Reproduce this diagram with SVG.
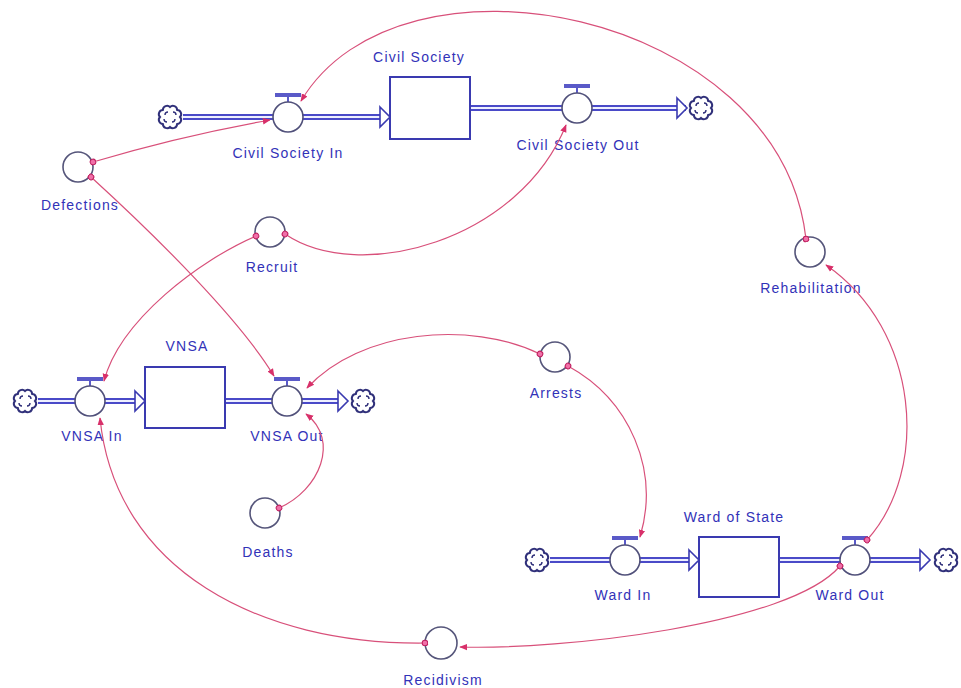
<svg xmlns="http://www.w3.org/2000/svg" width="961" height="688" viewBox="0 0 961 688">
<defs>
<style>
text{font-family:"Liberation Sans",Arial,sans-serif;font-size:14px;fill:#3232b8;letter-spacing:1.2px;text-anchor:middle}
.stock{fill:#fff;stroke:#3a3ab0;stroke-width:2}
.pipe{fill:none;stroke:#4a4ac8;stroke-width:6}
.pipein{fill:none;stroke:#eef0ff;stroke-width:2}
.valve{fill:#fff;stroke:#50507a;stroke-width:1.6}
.bar{fill:#5a5ac8}
.aux{fill:#fff;stroke:#55557a;stroke-width:1.6}
.cloud{fill:#fff;stroke:#30307a;stroke-width:2}
.cloudin{fill:none;stroke:#30307a;stroke-width:1.4}
.tri{fill:#fff;stroke:#3a3ab0;stroke-width:1.6}
.link{fill:none;stroke:#d8507a;stroke-width:1.2;marker-start:url(#dot);marker-end:url(#arr)}
</style>
<marker id="arr" viewBox="0 0 10 10" refX="9" refY="5" markerWidth="8" markerHeight="8" markerUnits="userSpaceOnUse" orient="auto">
<path d="M0,1 L10,5 L0,9 Z" fill="#d8306a"/>
</marker>
<marker id="dot" viewBox="0 0 10 10" refX="5" refY="5" markerWidth="7" markerHeight="7" markerUnits="userSpaceOnUse" orient="auto">
<circle cx="5" cy="5" r="4" fill="#f070a8" stroke="#c02060" stroke-width="1.5"/>
</marker>
<g id="cloudshape">
<path d="M10,0 A4.2,4.2 0 0 1 7.1,7.1 A4.2,4.2 0 0 1 0,10 A4.2,4.2 0 0 1 -7.1,7.1 A4.2,4.2 0 0 1 -10,0 A4.2,4.2 0 0 1 -7.1,-7.1 A4.2,4.2 0 0 1 0,-10 A4.2,4.2 0 0 1 7.1,-7.1 A4.2,4.2 0 0 1 10,0 Z" class="cloud"/>
<path d="M-5,-2 a3,3 0 0 1 3,-3 M3,-5 a3,3 0 0 1 3,3 M5,2 a3,3 0 0 1 -3,3 M-3,5 a3,3 0 0 1 -3,-3" class="cloudin"/>
</g>
<g id="valveshape">
<rect x="-13" y="-24" width="26" height="4" class="bar"/>
<line x1="0" y1="-20" x2="0" y2="-15" stroke="#5a5ac8" stroke-width="2"/>
<circle r="15" class="valve"/>
</g>
</defs>
<rect width="961" height="688" fill="#fff"/>

<!-- flow pipes -->
<g id="pipes">
<path d="M183,117 H381 M470,108 H686" class="pipe"/>
<path d="M183,117 H381 M470,108 H686" class="pipein"/>
<path d="M38,401 H136 M225,401 H338" class="pipe"/>
<path d="M38,401 H136 M225,401 H338" class="pipein"/>
<path d="M550,560 H689 M779,560 H920" class="pipe"/>
<path d="M550,560 H689 M779,560 H920" class="pipein"/>
<path d="M380,107 L390,117 L380,127 Z" class="tri"/>
<path d="M677,98 L687,108 L677,118 Z" class="tri"/>
<path d="M135,391 L145,401 L135,411 Z" class="tri"/>
<path d="M338,391 L348,401 L338,411 Z" class="tri"/>
<path d="M689,550 L699,560 L689,570 Z" class="tri"/>
<path d="M920,550 L930,560 L920,570 Z" class="tri"/>
</g>

<!-- Civil Society sector -->
<g id="cs-source"><use href="#cloudshape" x="170" y="117"/></g>
<g id="cs-sink"><use href="#cloudshape" x="701" y="108"/></g>
<g id="civil-society"><rect x="390" y="77" width="80" height="62" class="stock"/><text x="419" y="62">Civil Society</text></g>
<g id="civil-society-in"><use href="#valveshape" x="288" y="117"/><text x="288" y="158">Civil Society In</text></g>
<g id="civil-society-out"><use href="#valveshape" x="577" y="108"/><text x="578" y="150">Civil Society Out</text></g>

<!-- VNSA sector -->
<g id="vnsa-source"><use href="#cloudshape" x="25" y="401"/></g>
<g id="vnsa-sink"><use href="#cloudshape" x="363" y="401"/></g>
<g id="vnsa"><rect x="145" y="367" width="80" height="61" class="stock"/><text x="187" y="351">VNSA</text></g>
<g id="vnsa-in"><use href="#valveshape" x="90" y="401"/><text x="92" y="441">VNSA In</text></g>
<g id="vnsa-out"><use href="#valveshape" x="287" y="401"/><text x="287" y="441">VNSA Out</text></g>

<!-- Ward sector -->
<g id="ward-source"><use href="#cloudshape" x="537" y="560"/></g>
<g id="ward-sink"><use href="#cloudshape" x="946" y="560"/></g>
<g id="ward-of-state"><rect x="699" y="537" width="80" height="60" class="stock"/><text x="734" y="522">Ward of State</text></g>
<g id="ward-in"><use href="#valveshape" x="625" y="560"/><text x="623" y="600">Ward In</text></g>
<g id="ward-out"><use href="#valveshape" x="855" y="560"/><text x="850" y="600">Ward Out</text></g>

<!-- auxiliaries -->
<g id="defections"><circle cx="78" cy="167" r="15" class="aux"/><text x="80" y="210">Defections</text></g>
<g id="recruit"><circle cx="270" cy="232" r="15" class="aux"/><text x="272" y="272">Recruit</text></g>
<g id="rehabilitation"><circle cx="810" cy="252" r="15" class="aux"/><text x="811" y="293">Rehabilitation</text></g>
<g id="arrests"><circle cx="555" cy="357" r="15" class="aux"/><text x="556" y="398">Arrests</text></g>
<g id="deaths"><circle cx="265" cy="513" r="15" class="aux"/><text x="268" y="557">Deaths</text></g>
<g id="recidivism"><circle cx="441" cy="643" r="16" class="aux"/><text x="443" y="685">Recidivism</text></g>

<!-- connectors -->
<g id="connectors">
<path d="M93,162 Q180,136 270,120" class="link"/>
<path d="M91,177 C160,240 240,320 274,376" class="link"/>
<path d="M285,234 C360,285 520,240 566,125" class="link"/>
<path d="M256,236 C200,260 120,320 104,381" class="link"/>
<path d="M806,239 C780,10 400,-65 301,101" class="link"/>
<path d="M867,540 C930,470 920,330 826,265" class="link"/>
<path d="M540,354 C470,320 360,330 307,388" class="link"/>
<path d="M568,366 C630,400 660,470 640,537" class="link"/>
<path d="M279,508 C320,490 340,440 306,414" class="link"/>
<path d="M840,566 C790,625 560,650 460,647" class="link"/>
<path d="M425,643 C260,645 115,570 100,418" class="link"/>
</g>
</svg>
